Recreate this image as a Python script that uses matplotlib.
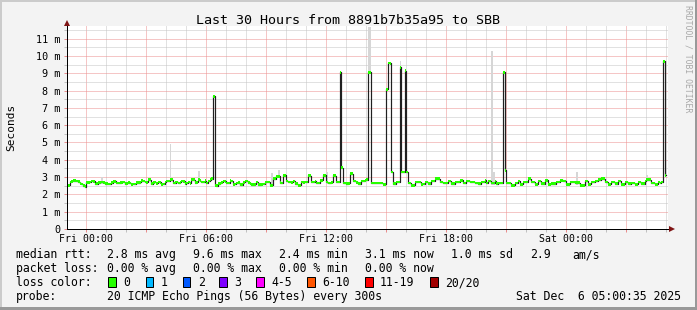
import matplotlib
matplotlib.use("Agg")
import matplotlib.pyplot as plt
import numpy as np
from matplotlib.patches import Rectangle

plt.rcParams["font.family"] = ["DejaVu Sans Mono"]

W, H, DPI = 697, 310, 100

# ---------------- data ----------------
title = "Last 30 Hours from 8891b7b35a95 to SBB"
y_label = "Seconds"
watermark = "RRDTOOL / TOBI OETIKER"

start_hour = -11 / 12      # first sample (Thu 23:05), hours relative to Fri 00:00
step_hours = 5 / 60        # 300 s steps

median_ms = [
    2.52, 2.71, 2.75, 2.80, 2.80, 2.77,
    2.74, 2.65, 2.60, 2.50, 2.45, 2.70,
    2.70, 2.72, 2.77, 2.76, 2.60, 2.62,
    2.68, 2.70, 2.71, 2.70, 2.62, 2.62,
    2.60, 2.60, 2.68, 2.76, 2.75, 2.66,
    2.66, 2.68, 2.70, 2.71, 2.62, 2.64,
    2.68, 2.66, 2.58, 2.60, 2.60, 2.67,
    2.67, 2.70, 2.80, 2.78, 2.71, 2.70,
    2.85, 2.84, 2.62, 2.70, 2.71, 2.65,
    2.71, 2.70, 2.58, 2.60, 2.72, 2.77,
    2.77, 2.85, 2.85, 2.66, 2.68, 2.72,
    2.66, 2.70, 2.77, 2.75, 2.62, 2.66,
    2.71, 2.65, 2.85, 2.84, 2.67, 2.70,
    2.85, 2.80, 2.71, 2.72, 2.80, 2.66,
    2.77, 2.85, 2.90, 7.66, 2.52, 2.50,
    2.62, 2.65, 2.70, 2.77, 2.76, 2.66,
    2.66, 2.80, 2.78, 2.58, 2.60, 2.66,
    2.68, 2.57, 2.56, 2.70, 2.77, 2.77,
    2.67, 2.65, 2.56, 2.56, 2.58, 2.71,
    2.56, 2.56, 2.58, 2.60, 2.70, 2.71,
    2.71, 2.52, 2.52, 2.91, 2.91, 3.05,
    3.05, 2.68, 2.66, 3.10, 3.10, 2.77,
    2.71, 2.71, 2.70, 2.77, 2.62, 2.62,
    2.52, 2.52, 2.71, 2.70, 2.72, 2.71,
    3.10, 3.08, 2.71, 2.72, 2.77, 2.66,
    2.66, 2.80, 2.81, 3.10, 3.10, 2.71,
    2.66, 2.66, 2.70, 3.10, 3.08, 2.71,
    2.71, 9.05, 3.54, 2.66, 2.66, 2.62,
    2.64, 3.19, 3.19, 2.77, 2.77, 2.70,
    2.62, 2.62, 2.77, 2.77, 2.81, 2.85,
    9.05, 9.05, 2.66, 2.66, 2.66, 2.66,
    2.66, 2.66, 2.66, 2.58, 2.58, 8.07,
    9.59, 9.57, 3.29, 2.62, 2.62, 2.71,
    2.71, 9.35, 3.29, 3.29, 9.15, 3.29,
    2.66, 2.66, 2.52, 2.52, 2.71, 2.71,
    2.71, 2.71, 2.58, 2.60, 2.71, 2.71,
    2.62, 2.62, 2.77, 2.77, 2.91, 2.91,
    2.91, 2.71, 2.71, 2.66, 2.66, 2.66,
    2.77, 2.77, 2.62, 2.62, 2.71, 2.71,
    2.71, 2.81, 2.81, 2.66, 2.66, 2.77,
    2.77, 2.71, 2.71, 2.71, 2.66, 2.66,
    2.62, 2.62, 2.71, 2.71, 2.81, 2.66,
    2.77, 2.77, 2.66, 2.66, 2.77, 2.62,
    2.66, 2.66, 2.66, 9.05, 3.39, 2.66,
    2.66, 2.66, 2.52, 2.52, 2.66, 2.66,
    2.77, 2.58, 2.58, 2.71, 2.71, 2.71,
    2.91, 2.91, 2.71, 2.71, 2.58, 2.58,
    2.77, 2.77, 2.62, 2.62, 2.81, 2.81,
    2.58, 2.58, 2.62, 2.62, 2.62, 2.71,
    2.71, 2.81, 2.81, 2.77, 2.77, 2.58,
    2.58, 2.71, 2.71, 2.71, 2.67, 2.67,
    2.67, 2.52, 2.52, 2.52, 2.77, 2.77,
    2.58, 2.58, 2.71, 2.71, 2.77, 2.77,
    2.85, 2.85, 2.91, 2.91, 2.71, 2.71,
    2.58, 2.58, 2.71, 2.71, 2.62, 2.62,
    2.77, 2.77, 2.58, 2.58, 2.71, 2.71,
    2.62, 2.62, 2.66, 2.66, 2.58, 2.58,
    2.71, 2.71, 2.62, 2.62, 2.77, 2.85,
    2.85, 2.85, 2.66, 2.66, 2.58, 2.58,
    2.71, 2.66, 2.71, 9.69, 3.10,
]

# notable smoke (max ping) peaks: sample index and value (ms)
smoke_idx = [20, 61, 78, 122, 126, 144, 155, 180, 181, 199, 254, 255, 305, 347]
smoke_max = [3.00, 4.93, 3.35, 3.25, 3.39, 3.20, 3.30, 11.7, 11.7, 9.70, 10.3, 3.30, 3.30, 3.10]

x_tick_hours = [0, 6, 12, 18, 24]
x_tick_labels = ["Fri 00:00", "Fri 06:00", "Fri 12:00", "Fri 18:00", "Sat 00:00"]
y_tick_values = list(range(12))
y_tick_labels = ["0"] + [f"{v} m" for v in range(1, 12)]

loss_labels = ["0", "1", "2", "3", "4-5", "6-10", "11-19", "20/20"]
loss_colors = ["#26ff00", "#00b8ff", "#0059ff", "#7e00ff", "#ff00ff",
               "#ff5500", "#ff0000", "#a10000"]

rtt_title = "median rtt:"
rtt_items = ["2.8 ms avg", "9.6 ms max", "2.4 ms min", "3.1 ms now", "1.0 ms sd", "2.9", "am/s"]
loss_title = "packet loss:"
loss_items = ["0.00 % avg", "0.00 % max", "0.00 % min", "0.00 % now"]
loss_color_title = "loss color:"
probe_title = "probe:"
probe_text = "20 ICMP Echo Pings (56 Bytes) every 300s"
date_text = "Sat Dec  6 05:00:35 2025"

# ---------------- layout ----------------
x_left_px, x_right_px = 67.0, 668.0
y_top_px, y_bot_px = 26.0, 229.0
x_min_h, x_max_h = -0.965, 29.085
y_max = 11.73

fig = plt.figure(figsize=(W / DPI, H / DPI), dpi=DPI, facecolor="#f3f3f3")
ax = fig.add_axes([x_left_px / W, 1 - y_bot_px / H,
                   (x_right_px - x_left_px) / W, (y_bot_px - y_top_px) / H])
ax.set_facecolor("white")
ax.set_xlim(x_min_h, x_max_h)
ax.set_ylim(0, y_max)

px = 0.72  # one pixel in points

# grid
major_x = [h for h in range(0, 30, 3)]
minor_x = [h for h in range(0, 30) if h % 3 != 0]
ax.set_xticks(major_x)
ax.set_xticklabels([x_tick_labels[x_tick_hours.index(h)] if h in x_tick_hours else "" for h in major_x])
ax.set_xticks(minor_x, minor=True)
ax.set_yticks(y_tick_values)
ax.set_yticklabels(y_tick_labels)
ax.set_yticks([v + 0.5 for v in range(12) if v + 0.5 < y_max], minor=True)
ax.set_axisbelow(True)
ax.grid(which="minor", color="#c4c4c4", linestyle=(0, (1, 1)), linewidth=px)
ax.grid(which="major", color="#ec8f8f", linestyle=(0, (1, 1)), linewidth=px)
ax.tick_params(which="major", length=2.2, width=px, color="#e88c8c", labelsize=7.1, pad=1.6)
ax.tick_params(which="minor", length=2.2, width=px, color="#c0c0c0")
ax.tick_params(axis="y", which="both", pad=2.8)
ax.tick_params(axis="y", which="major", labelsize=7.3)

for s in ["top", "right"]:
    ax.spines[s].set_visible(False)
for s in ["left", "bottom"]:
    ax.spines[s].set_color("#000000")
    ax.spines[s].set_linewidth(px)
    ax.spines[s].set_zorder(6)

# data
n = len(median_ms)
t = start_hour + step_hours * np.arange(n)
med = np.array(median_ms)

# smoke
for i, v in zip(smoke_idx, smoke_max):
    ax.bar(t[i], min(v, y_max) - med[i] + 0.1, bottom=med[i] - 0.1, width=step_hours,
           align="edge", color="#d6d6d6", linewidth=0, zorder=2)

# median line (dark) with steps
t_ext = np.append(t, t[-1] + step_hours)
m_ext = np.append(med, med[-1])
ax.plot(t_ext, m_ext, drawstyle="steps-post", color="#202020", linewidth=px * 1.2, zorder=3)
# loss-coloured band (0 loss everywhere)
band = 0.08
ax.bar(t, 2 * band, bottom=med - band, width=step_hours, align="edge",
       color=loss_colors[0], linewidth=0, zorder=4)

# axis arrows
arrow_c = "#7f1414"
ax.plot([0, 0], [1, 1 + 2.0 / (y_bot_px - y_top_px)], transform=ax.transAxes,
        color="black", lw=px, clip_on=False, zorder=6)
ax.plot([0], [1 + 3.0 / (y_bot_px - y_top_px)], transform=ax.transAxes, marker="^",
        ms=4.2, color=arrow_c, clip_on=False, zorder=7, markeredgewidth=0)
ax.plot([1, 1 + 3.0 / (x_right_px - x_left_px)], [0, 0], transform=ax.transAxes,
        color="black", lw=px, clip_on=False, zorder=6)
ax.plot([1 + 3.5 / (x_right_px - x_left_px)], [0], transform=ax.transAxes, marker=">",
        ms=4.2, color=arrow_c, clip_on=False, zorder=7, markeredgewidth=0)


def ftxt(x, y, s, **kw):
    fig.text(x / W, 1 - y / H, s, **kw)


# title, labels
ftxt(348.5, 23.5, title, ha="center", va="baseline", fontsize=9.6, color="black")
ftxt(11, 127, y_label, ha="center", va="center", rotation=90, fontsize=8.0)
ftxt(688, 59, watermark, ha="center", va="center", rotation=270, fontsize=5.9, color="#a8a8a8")

# legend rows
fs = 8.3
ftxt(16, 258.3, rtt_title, va="baseline", fontsize=fs)
for xp, s in zip([107.3, 193.3, 279.3, 365, 451, 530.3, 572.3], rtt_items):
    ftxt(xp, 258.3, s, va="baseline", fontsize=fs)
ftxt(16, 272.3, loss_title, va="baseline", fontsize=fs)
for xp, s in zip([107.3, 193.3, 279.3, 365], loss_items):
    ftxt(xp, 272.3, s, va="baseline", fontsize=fs)
ftxt(16, 286.3, loss_color_title, va="baseline", fontsize=fs)
box_x = [108.3, 145.7, 182.7, 219.3, 256.0, 307.3, 365.0, 430.0]
for bx, lab, col in zip(box_x, loss_labels, loss_colors):
    fig.add_artist(Rectangle((bx / W, 1 - 286.5 / H), 7.5 / W, 9.5 / H,
                             transform=fig.transFigure, facecolor=col,
                             edgecolor="black", linewidth=px))
    ftxt(bx + 15, 286.3, lab, va="baseline", fontsize=fs)
ftxt(16, 300.3, probe_title, va="baseline", fontsize=fs)
ftxt(107.3, 300.3, probe_text, va="baseline", fontsize=fs)
ftxt(680.5, 300.3, date_text, va="baseline", ha="right", fontsize=fs)

# frame (3D shade)
fig.add_artist(Rectangle((0, 1 - 2 / H), 1, 2 / H, transform=fig.transFigure,
                         facecolor="#cbcbcb", linewidth=0))
fig.add_artist(Rectangle((0, 0), 2 / W, 1, transform=fig.transFigure,
                         facecolor="#cbcbcb", linewidth=0))
fig.add_artist(Rectangle((0, 0), 1, 3 / H, transform=fig.transFigure,
                         facecolor="#999999", linewidth=0))
fig.add_artist(Rectangle((1 - 2 / W, 0), 2 / W, 1, transform=fig.transFigure,
                         facecolor="#999999", linewidth=0))

fig.savefig("out.png", dpi=DPI, facecolor=fig.get_facecolor())
